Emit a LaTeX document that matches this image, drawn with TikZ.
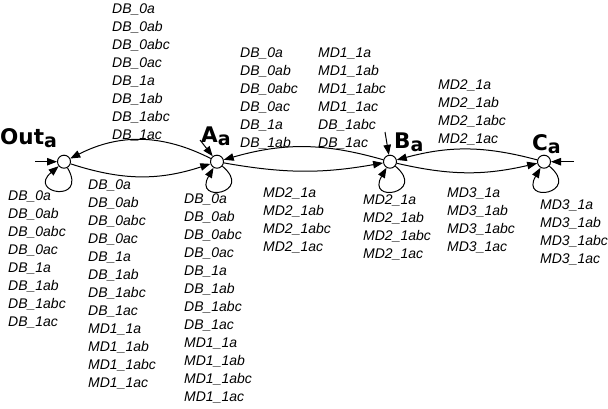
\documentclass[tikz,border=0pt]{standalone}
\usepackage{fontspec}
\setmainfont{Liberation Sans}
\newfontfamily\statefont{DejaVu Sans}
\usetikzlibrary{positioning, arrows.meta}

\newcommand{\stsub}[1]{\raisebox{-3.5pt}{\fontsize{19}{19}\selectfont #1}}

\tikzset{
	state/.style={draw, circle, minimum size=13pt, inner sep=0pt, line width=1pt, fill=white},
	statename/.style={font=\statefont\bfseries\fontsize{21.5}{21.5}\selectfont, inner sep=0pt, anchor=base west},
	trans/.style={-{Triangle[length=10pt,width=7.5pt]}, line width=1pt},
	guard/.style={font=\fontsize{14}{18}\selectfont\itshape, align=left, anchor=north west, inner sep=0pt},
}

\begin{document}
\begin{tikzpicture}[x=1pt,y=-1pt]
		\useasboundingbox (0,0) rectangle (608,408);
		% states
		\node[state] (out) at (64,161.7) {};
		\node[state] (a) at (217,161.7) {};
		\node[state] (b) at (390,161.7) {};
		\node[state] (c) at (544,161.7) {};
		
		% state names
		\node[statename] (outname) at (0,144) {Out\stsub{a}};
		\node[statename] (aname) at (201,142) {A\stsub{a}};
		\node[statename] (bname) at (394,148) {B\stsub{a}};
		\node[statename] (cname) at (532,150) {C\stsub{a}};
		
		% initial arrows
		\coordinate (outinit) at (35,161.7);
		\coordinate (ainit) at (200,140);
		\coordinate (binit) at (385,132);
		\coordinate (cinit) at (574,161.7);
		\draw[trans] (outinit) -- (out);
		\draw[trans] (ainit) -- (a);
		\draw[trans] (binit) -- (b);
		\draw[trans] (cinit) -- (c);
		
		% transitions
		\draw[trans] (a) to[bend right=27] (out);
		\draw[trans] (out) to[bend right=18] (a);
		\draw[trans] (b) to[bend right=16] (a);
		\draw[trans] (a) to[bend right=10] (b);
		\draw[trans] (c) to[bend right=15] (b);
		\draw[trans] (b) to[bend right=13] (c);
		\draw[trans] (out) to[out=-60, in=-140, min distance=42pt] (out);
		\draw[trans] (a) to[out=-40, in=-120, min distance=42pt] (a);
		\draw[trans] (b) to[out=-40, in=-120, min distance=42pt] (b);
		\draw[trans] (c) to[out=-40, in=-120, min distance=42pt] (c);
		
		% guards
		\node[guard] (gAOut) at (112,3.3) {DB\_0a\\DB\_0ab\\DB\_0abc\\DB\_0ac\\DB\_1a\\DB\_1ab\\DB\_1abc\\DB\_1ac};
		\node[guard] (gOutLoop) at (8,191) {DB\_0a\\DB\_0ab\\DB\_0abc\\DB\_0ac\\DB\_1a\\DB\_1ab\\DB\_1abc\\DB\_1ac};
		\node[guard] (gOutA) at (88,180) {DB\_0a\\DB\_0ab\\DB\_0abc\\DB\_0ac\\DB\_1a\\DB\_1ab\\DB\_1abc\\DB\_1ac\\MD1\_1a\\MD1\_1ab\\MD1\_1abc\\MD1\_1ac};
		\node[guard] (gALoop) at (184,194) {DB\_0a\\DB\_0ab\\DB\_0abc\\DB\_0ac\\DB\_1a\\DB\_1ab\\DB\_1abc\\DB\_1ac\\MD1\_1a\\MD1\_1ab\\MD1\_1abc\\MD1\_1ac};
		\node[guard] (gBA1) at (240,48) {DB\_0a\\DB\_0ab\\DB\_0abc\\DB\_0ac\\DB\_1a\\DB\_1ab};
		\node[guard] (gBA2) at (318,48) {MD1\_1a\\MD1\_1ab\\MD1\_1abc\\MD1\_1ac\\DB\_1abc\\DB\_1ac};
		\node[guard] (gAB) at (263,188) {MD2\_1a\\MD2\_1ab\\MD2\_1abc\\MD2\_1ac};
		\node[guard] (gBLoop) at (363,195) {MD2\_1a\\MD2\_1ab\\MD2\_1abc\\MD2\_1ac};
		\node[guard] (gCB) at (438,80) {MD2\_1a\\MD2\_1ab\\MD2\_1abc\\MD2\_1ac};
		\node[guard] (gBC) at (447,188) {MD3\_1a\\MD3\_1ab\\MD3\_1abc\\MD3\_1ac};
		\node[guard] (gCLoop) at (540,200) {MD3\_1a\\MD3\_1ab\\MD3\_1abc\\MD3\_1ac};
	\end{tikzpicture}
\end{document}
